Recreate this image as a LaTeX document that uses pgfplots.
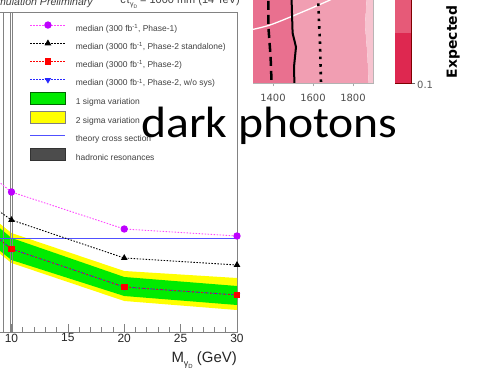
\documentclass[border=0pt]{standalone}
\usepackage{fontspec}
\setmainfont{Liberation Sans}
\newfontfamily\dejavu{DejaVu Sans}
\newfontfamily\carlito{Carlito}
\usepackage{pgfplots}
\pgfplotsset{compat=1.18}

\definecolor{magline}{RGB}{255,70,255}
\definecolor{magmark}{RGB}{190,0,255}
\definecolor{bandgreen}{RGB}{0,235,0}
\definecolor{bandyellow}{RGB}{255,255,0}
\definecolor{theoryblue}{RGB}{80,80,255}
\definecolor{wosysblue}{RGB}{40,40,255}
\definecolor{framegray}{RGB}{130,130,130}
\definecolor{cdark}{RGB}{233,112,143}
\definecolor{cmid}{RGB}{241,158,178}
\definecolor{clight}{RGB}{247,196,208}
\definecolor{cbhigh}{RGB}{230,90,120}
\definecolor{cblow}{RGB}{222,40,80}

\pgfplotsset{
 lineleg/.style={legend image code/.code={
   \path[draw=none,fill=none] (0bp,-3bp) rectangle (35bp,9bp);
   \draw[mark repeat=2,mark phase=2,##1] plot coordinates {(0bp,3bp) (17.5bp,3bp) (35bp,3bp)};}},
 arealeg/.style={legend image code/.code={
   \path[draw=none,fill=none] (0bp,-3bp) rectangle (35bp,9bp);
   \draw[##1] (0bp,-3bp) rectangle (35bp,9bp);}},
}

\begin{document}
\begin{tikzpicture}
\path[use as bounding box] (0bp,0bp) rectangle (491bp,375bp);
\clip (0bp,0bp) rectangle (491bp,375bp);

% ---------------- main limit plot ----------------
\begin{axis}[
 at={(-1.5bp,43bp)}, anchor=south west, scale only axis,
 width=238.5bp, height=320bp,
 xmin=8.847, xmax=30, ymin=43, ymax=363,
 xtick={10,15,20,25,30}, minor x tick num=4, ytick=\empty, xtick pos=left,
 tick align=inside, major tick length=8bp, minor tick length=4.5bp,
 axis line style={draw=framegray, line width=0.8bp},
 every tick/.style={draw=framegray, line width=0.7bp},
 clip mode=individual,
 /pgf/number format/assume math mode=true,
 xticklabel style={font=\fontsize{12}{14}\selectfont, text=black!85, inner sep=1.5bp},
 xlabel={M\raisebox{-4bp}{\fontsize{9}{9}\selectfont γ\raisebox{-2bp}{\fontsize{6}{6}\selectfont D}}\ (GeV)},
 xlabel style={at={(axis description cs:1,0)}, anchor=base east, yshift=-30bp, inner sep=0pt,
   font=\fontsize{15}{18}\selectfont, text=black!85},
 legend cell align=left,
 legend style={at={(axis description cs:0.132,0.978)}, anchor=north west, draw=none, fill=none,
   inner sep=0pt, outer sep=0pt, row sep=3.3bp, font=\fontsize{8.5}{10}\selectfont, text=black!75,
   nodes={inner sep=0pt, text height=9bp, text depth=3bp},
   /tikz/every odd column/.append style={column sep=10bp}},
]
\addplot[draw=none, fill=bandyellow, forget plot] coordinates {(8,160)(10,142)(20,104)(30,97)(30,65)(20,74)(10,112)(8,130)} -- cycle;
\addplot[draw=none, fill=bandgreen, forget plot] coordinates {(8,156)(10,137)(20,98)(30,89)(30,70)(20,79)(10,115)(8,133)} -- cycle;
\addplot[framegray, line width=0.6bp, forget plot] coordinates {(9.27,43)(9.27,363)};
\addplot[framegray, line width=0.8bp, forget plot] coordinates {(9.87,43)(9.87,363)};
\addplot[framegray, line width=0.8bp, forget plot] coordinates {(10.07,43)(10.07,363)};
\addplot[theoryblue, line width=1bp, forget plot] coordinates {(8,136)(30,136)};
\addplot[magline, dash pattern=on 1.5bp off 1.5bp, line width=0.9bp, mark=*, mark size=3.2bp,
  mark options={solid, fill=magmark, draw=magmark}, forget plot] coordinates {(8,201)(10,183)(20,146)(30,139)};
\addplot[black, dash pattern=on 1.5bp off 1.5bp, line width=0.9bp, mark=triangle*, mark size=3bp,
  mark options={solid}, forget plot] coordinates {(8,171)(10,155)(20,117)(30,110)};
\addplot[wosysblue, dash pattern=on 1.5bp off 1.5bp, line width=0.9bp, mark=triangle*, mark size=2.8bp,
  mark options={solid, rotate=180}, forget plot] coordinates {(8,144)(10,126)(20,88)(30,80)};
\addplot[red, dash pattern=on 1.5bp off 3bp, line width=0.9bp, mark=square*, mark size=2.8bp,
  mark options={solid}, forget plot] coordinates {(8,144)(10,126)(20,88)(30,80)};

\addlegendimage{lineleg, magline, dash pattern=on 1.5bp off 1.5bp, line width=0.9bp, mark=*, mark size=3.2bp, mark options={solid, fill=magmark, draw=magmark}}
\addlegendentry{median (300 fb\textsuperscript{-1}, Phase-1)}
\addlegendimage{lineleg, black, dash pattern=on 1.5bp off 1.5bp, line width=0.9bp, mark=triangle*, mark size=3bp, mark options={solid}}
\addlegendentry{median (3000 fb\textsuperscript{-1}, Phase-2 standalone)}
\addlegendimage{lineleg, red, dash pattern=on 1.5bp off 1.5bp, line width=0.9bp, mark=square*, mark size=2.8bp, mark options={solid}}
\addlegendentry{median (3000 fb\textsuperscript{-1}, Phase-2)}
\addlegendimage{lineleg, wosysblue, dash pattern=on 1.5bp off 1.5bp, line width=0.9bp, mark=triangle*, mark size=2.8bp, mark options={solid, rotate=180}}
\addlegendentry{median (3000 fb\textsuperscript{-1}, Phase-2, w/o sys)}
\addlegendimage{arealeg, fill=bandgreen, draw=green!40!black, line width=0.8bp}
\addlegendentry{1 sigma variation}
\addlegendimage{arealeg, fill=bandyellow, draw=gray, line width=0.8bp}
\addlegendentry{2 sigma variation}
\addlegendimage{legend image code/.code={\path[draw=none,fill=none] (0bp,-3bp) rectangle (35bp,9bp);
   \fill[fill=theoryblue, draw=none] (0bp,2.4bp) rectangle (35bp,3.6bp);}}
\addlegendentry{theory cross section}
\addlegendimage{arealeg, fill=black!70, draw=black!80, line width=0.8bp}
\addlegendentry{hadronic resonances}
\end{axis}

% ---------------- contour fragment ----------------
\begin{axis}[
 at={(253bp,292bp)}, anchor=south west, scale only axis,
 width=120bp, height=110bp,
 xmin=1300, xmax=1900, ymin=292, ymax=402,
 xtick={1400,1600,1800}, ytick=\empty, xtick pos=left,
 tick align=outside, major tick length=3.5bp,
 axis line style={draw=gray!60, line width=0.6bp},
 every tick/.style={draw=gray!70, line width=0.6bp},
 /pgf/number format/assume math mode=true,
 /pgf/number format/1000 sep={},
 xticklabel style={font=\dejavu\fontsize{10}{12}\selectfont, text=black!70, inner sep=1.5bp, yshift=-6bp},
]
\addplot[draw=none, fill=cdark] coordinates {(1300,292)(1300,402)(1493,402)(1493,375)(1498,342)(1515,328)(1505,308)(1507,292)} -- cycle;
\addplot[draw=none, fill=cmid] coordinates {(1507,292)(1505,308)(1515,328)(1498,342)(1493,375)(1493,402)(1865,402)(1868,375)(1860,350)(1872,320)(1878,292)} -- cycle;
\addplot[draw=none, fill=clight] coordinates {(1878,292)(1872,320)(1860,350)(1868,375)(1865,402)(1900,402)(1900,292)} -- cycle;
\addplot[white, line width=1.3bp, smooth] coordinates {(1285,345)(1385,350)(1535,362)(1685,375)(1760,383)};
\addplot[black, line width=2.5bp, dash pattern=on 9bp off 5bp] coordinates {(1377,402)(1377,348)(1388,318)(1393,292)};
\addplot[black, line width=2bp] coordinates {(1493,402)(1493,375)(1498,342)(1515,328)(1505,308)(1507,292)};
\addplot[black, line width=2.6bp, dash pattern=on 2.6bp off 5bp] coordinates {(1627,402)(1627,370)(1630,353)(1635,332)(1638,308)(1640,292)};
\end{axis}

% ---------------- colour bar fragment ----------------
\begin{axis}[
 at={(395bp,292bp)}, anchor=south west, scale only axis,
 width=16bp, height=110bp,
 xmin=0, xmax=1, ymin=292, ymax=402,
 xtick=\empty, ytick={292}, yticklabels={0.1}, ytick pos=right,
 tick align=outside, major tick length=4bp,
 axis line style={draw=red!50!black, line width=0.6bp},
 every tick/.style={draw=black!60, line width=0.6bp},
 yticklabel style={font=\dejavu\fontsize{10}{12}\selectfont, text=black!65, inner sep=2bp, yshift=-2bp},
]
\addplot[draw=none, fill=cblow] coordinates {(0,292)(1,292)(1,342)(0,342)} -- cycle;
\addplot[draw=none, fill=cbhigh] coordinates {(0,342)(1,342)(1,402)(0,402)} -- cycle;
\end{axis}

\node[rotate=90, inner sep=0pt, font=\dejavu\bfseries\fontsize{14}{16}\selectfont] at (453bp,333bp) {Expected};

% ---------------- header texts ----------------
\node[anchor=base east, inner sep=0pt, font=\itshape\fontsize{10.6}{12}\selectfont, text=black!75] at (93bp,369bp) {Simulation Preliminary};
\node[anchor=base east, inner sep=0pt, font=\fontsize{11}{13}\selectfont, text=black!75] at (240bp,371bp)
  {cτ\raisebox{-3bp}{\fontsize{7}{7}\selectfont γ\raisebox{-1.5bp}{\fontsize{5}{5}\selectfont D}} = 1000 mm (14 TeV)};

% ---------------- overlay title ----------------
\node[anchor=base west, inner sep=0pt, xscale=1.086, font=\carlito\fontsize{44}{53}\selectfont] at (141bp,237bp) {dark photons};
\end{tikzpicture}
\end{document}
